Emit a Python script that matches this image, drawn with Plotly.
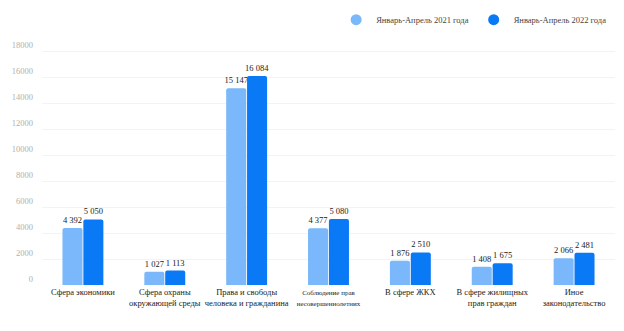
import plotly.graph_objects as go

categories = [
    "Сфера экономики",
    "Сфера охраны<br>окружающей среды",
    "Права и свободы<br>человека и гражданина",
    "<span style='font-size:7px'>Соблюдение прав<br>несовершеннолетних</span>",
    "В сфере ЖКХ",
    "В сфере жилищных<br>прав граждан",
    "Иное<br>законодательство",
]
series_2021 = [4392, 1027, 15147, 4377, 1876, 1408, 2066]
series_2022 = [5050, 1113, 16084, 5080, 2510, 1675, 2481]
name_2021 = "Январь-Апрель 2021 года"
name_2022 = "Январь-Апрель 2022 года"
y_ticks = [0, 2000, 4000, 6000, 8000, 10000, 12000, 14000, 16000, 18000]

c21 = "#7ab8fb"
c22 = "#0a79f6"
serif = "Liberation Serif, Times New Roman, DejaVu Serif, serif"

fig = go.Figure()
for name, vals, col in [(name_2021, series_2021, c21), (name_2022, series_2022, c22)]:
    fig.add_trace(go.Bar(
        x=categories, y=vals, name=name, marker_color=col,
        marker_line_width=0,
        texttemplate="%{y:,}", textposition="outside",
        textfont=dict(family=serif, size=8.5, color="#222"),
        constraintext="none",
        cliponaxis=False, showlegend=False,
    ))
    fig.add_trace(go.Scatter(
        x=[None], y=[None], mode="markers", name=name,
        marker=dict(symbol="circle", size=11, color=col),
    ))

fig.update_layout(
    width=624, height=331,
    margin=dict(l=42, r=9, t=46, b=46, autoexpand=False),
    paper_bgcolor="white", plot_bgcolor="white",
    separators=". ",
    barmode="group", bargap=0.49, bargroupgap=0.04,
    barcornerradius=2,
    font=dict(family=serif, color="#222"),
    legend=dict(
        orientation="h", x=0.995, xanchor="right", y=1.11, yanchor="middle",
        font=dict(family=serif, size=8.5, color="#444"),
        itemwidth=30, bgcolor="rgba(0,0,0,0)",
    ),
)
fig.update_xaxes(
    showgrid=False, showline=False, ticks="", tickangle=0, automargin=False,
    tickfont=dict(family=serif, size=8.5, color="#222"),
)
fig.update_yaxes(
    range=[0, 18400], tickvals=y_ticks, tickformat="d", automargin=False,
    showgrid=True, gridcolor="#f3f3f3", gridwidth=1,
    zeroline=False, showline=False,
    tickfont=dict(family=serif, size=8.5, color="#b0b0b0"),
    ticklabelshift=-6, ticklabelstandoff=8,
)

fig.write_html(
    "out.html",
    config={"displayModeBar": False},
    post_script="document.body.style.margin='0';document.body.style.padding='0';",
)
